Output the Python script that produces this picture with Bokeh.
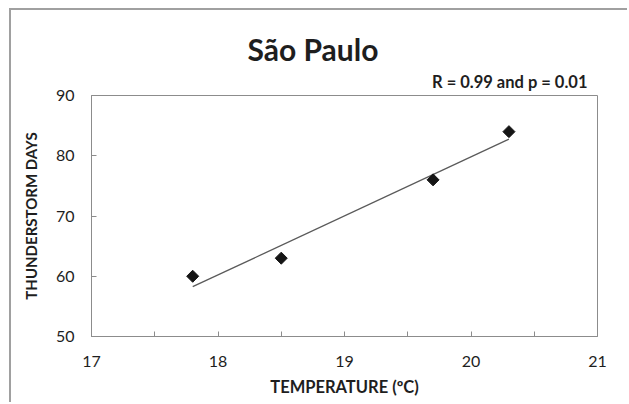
from bokeh.plotting import figure
from bokeh.models import Range1d, FixedTicker, Title
from bokeh.embed import file_html
from bokeh.resources import INLINE
import numpy as np

# Data
temperature = [17.8, 18.5, 19.7, 20.3]
thunderstorm_days = [60, 63, 76, 84]
x_ticks = [17, 18, 19, 20, 21]
x_minor_ticks = [17.5, 18.5, 19.5, 20.5]
y_ticks = [50, 60, 70, 80, 90]
title_text = "São Paulo"
stats_text = "R = 0.99 and p = 0.01"
x_label = "TEMPERATURE (ºC)"
y_label = "THUNDERSTORM DAYS"

# Linear trend line (least squares) from the data
slope, intercept = np.polyfit(temperature, thunderstorm_days, 1)
trend_x = [min(temperature), max(temperature)]
trend_y = [slope * v + intercept for v in trend_x]

FONT = "Lato"
GRAY = "#8c8c8c"
TXT = "#1e1e1e"

p = figure(width=618, height=394, output_backend="svg", toolbar_location=None,
           x_range=Range1d(17, 21), y_range=Range1d(50, 90),
           min_border_left=80, min_border_right=32, min_border_top=85, min_border_bottom=68)
p.background_fill_color = "white"
p.border_fill_color = "white"
p.outline_line_color = GRAY
p.outline_line_width = 1
p.xgrid.visible = False
p.ygrid.visible = False

# Axes
p.xaxis.ticker = FixedTicker(ticks=x_ticks, minor_ticks=x_minor_ticks)
p.yaxis.ticker = FixedTicker(ticks=y_ticks)
for ax in (p.xaxis, p.yaxis):
    ax.axis_line_color = GRAY
    ax.major_tick_line_color = GRAY
    ax.minor_tick_line_color = GRAY
    ax.major_tick_out = 0
    ax.major_tick_in = 5
    ax.minor_tick_out = 0
    ax.minor_tick_in = 5
    ax.major_label_text_font = FONT
    ax.major_label_text_font_size = "16px"
    ax.major_label_text_color = TXT
    ax.axis_label_text_font = FONT
    ax.axis_label_text_font_style = "bold"
    ax.axis_label_text_color = TXT
p.yaxis.minor_tick_line_color = None
p.xaxis.major_label_standoff = 19
p.yaxis.major_label_standoff = 17
p.xaxis.axis_label = x_label
p.yaxis.axis_label = y_label
p.xaxis.axis_label_text_font_size = "16.5px"
p.yaxis.axis_label_text_font_size = "15px"
p.xaxis.axis_label_standoff = 7
p.yaxis.axis_label_standoff = 13

# Statistics text (closest to the frame)
p.add_layout(Title(text=stats_text, align="right", offset=10, standoff=7,
                   text_font=FONT, text_font_style="bold", text_font_size="16.5px",
                   text_color=TXT), "above")

# Trend line and points
p.line(trend_x, trend_y, line_color="#5a5a5a", line_width=1.3)
p.scatter(temperature, thunderstorm_days, marker="square", angle=0.785398, size=8.5,
          fill_color="#151515", line_color="#151515")

# Main title
p.title.text = title_text
p.title.align = "left"
p.title.offset = 156
p.title.standoff = 0
p.title.text_font = FONT
p.title.text_font_style = "bold"
p.title.text_font_size = "30px"
p.title.text_color = TXT

# Outer chart-area border (top and left edges of the spreadsheet chart box)
p.styles = {"margin-left": "9px", "margin-top": "8px",
            "border-left": "2px solid #a0a0a0", "border-top": "2px solid #a0a0a0"}

open("out.html", "w").write(file_html(p, INLINE))
